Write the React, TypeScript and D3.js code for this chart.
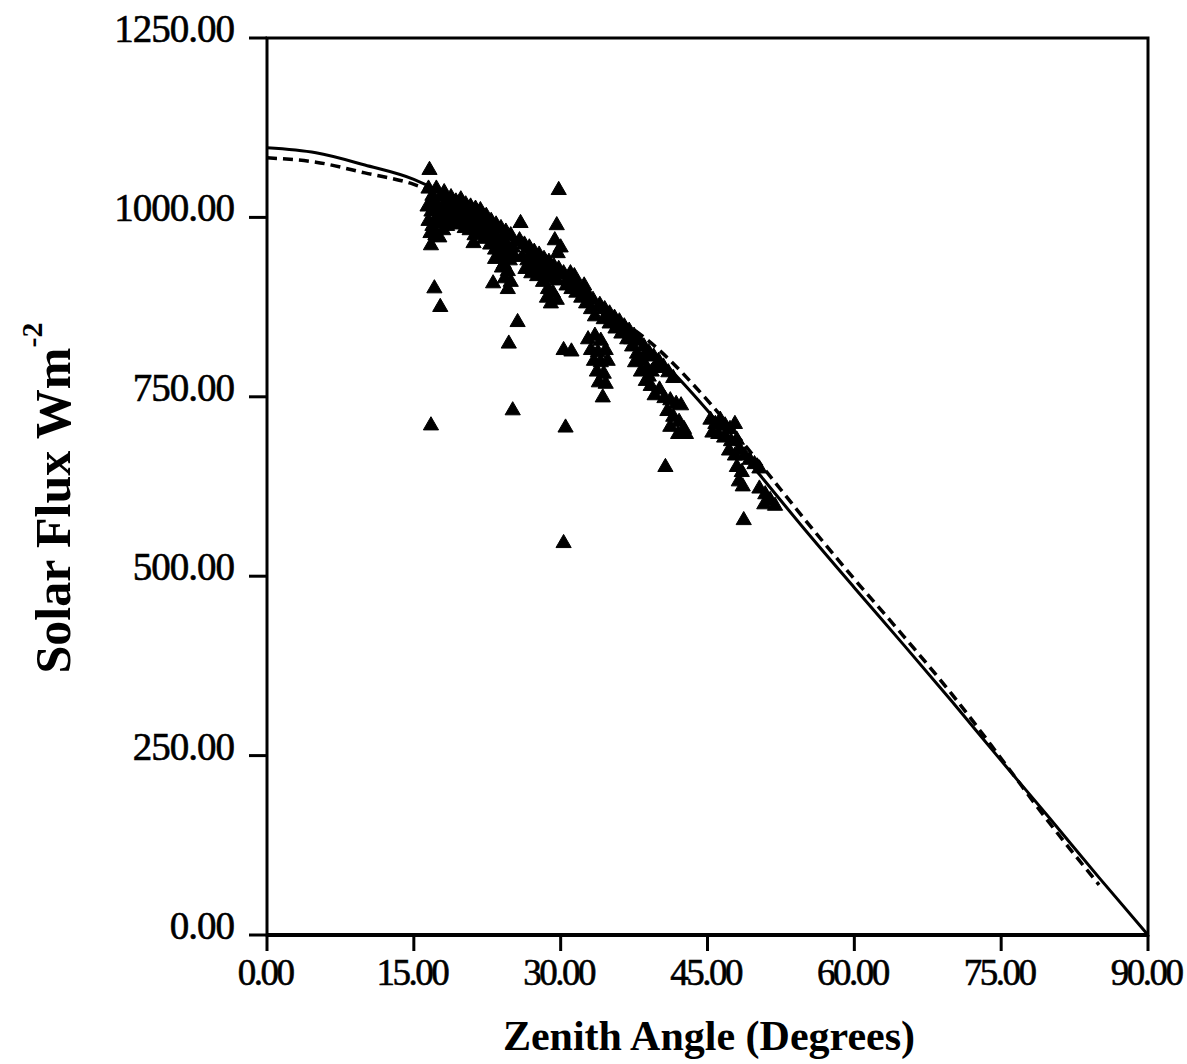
import React from 'react';
import * as d3 from 'd3';

const X_TICKS = [0, 15, 30, 45, 60, 75, 90];
const Y_TICKS = [0, 250, 500, 750, 1000, 1250];

const LINE_ANGLES = [0, 5, 10, 15, 20, 25, 30, 35, 40, 45, 50, 55, 60, 65, 70, 75, 80, 85, 90];
const SOLID_FLUX = [1097, 1090, 1073, 1053, 1017, 968, 912, 858, 804, 731, 647, 564, 484, 405, 325, 243, 162, 80, 0];

const DASHED_ANGLES = [0, 5, 10, 15, 20, 25, 30, 35, 40, 45, 50, 55, 60, 65, 70, 75, 80, 85];
const DASHED_FLUX = [1083, 1077, 1062, 1046, 1015, 970, 918, 868, 816, 745, 663, 578, 496, 417, 335, 246, 155, 70];

const OBS_ANGLE_FLUX: [number, number][] = [
  [16.6, 1066],
  [16.5, 1040], [16.9, 1030], [17.3, 1040], [17.7, 1028], [18.1, 1035],
  [16.4, 1015], [16.8, 1008], [17.2, 1018], [17.6, 1010], [18.0, 1015], [18.4, 1022],
  [16.5, 995], [16.9, 988], [17.3, 998], [17.7, 992], [18.1, 1000], [18.5, 1005],
  [16.7, 978], [17.2, 975], [17.6, 972], [18.0, 982], [18.4, 988],
  [17.0, 1022], [17.5, 1002], [18.3, 1012], [18.6, 995],
  [16.75, 961], [17.1, 901], [17.7, 875], [16.75, 710],
  [18.8, 1028], [19.3, 1022], [19.8, 1025], [20.3, 1018], [20.8, 1015], [21.3, 1012], [21.8, 1010],
  [18.9, 1010], [19.4, 1005], [19.9, 1008], [20.4, 1000], [20.9, 998], [21.4, 995], [21.9, 995],
  [19.0, 992], [19.6, 990], [20.2, 985], [20.7, 982], [21.2, 975], [21.7, 978], [22.2, 970],
  [19.1, 1016], [19.7, 1000], [20.6, 1008], [21.6, 1002], [22.1, 988], [20.0, 993], [21.0, 990],
  [21.1, 964],
  [22.4, 1002], [22.9, 995], [23.4, 990], [23.9, 985], [24.4, 980], [24.9, 975],
  [22.6, 985], [23.1, 978], [23.6, 970], [24.1, 965], [24.6, 960], [25.1, 958],
  [22.8, 962], [23.3, 955], [23.8, 948], [24.3, 945], [24.8, 940], [25.3, 945],
  [22.6, 975], [23.6, 960], [24.6, 950], [23.3, 942], [24.2, 935],
  [24.0, 930], [24.6, 925], [24.3, 915], [24.9, 910], [24.6, 900],
  [23.1, 908], [25.9, 992], [25.6, 854], [24.7, 824], [25.1, 731],
  [25.8, 968], [26.3, 962], [26.8, 958], [27.3, 952], [27.8, 948], [28.3, 942], [28.8, 938], [29.3, 932], [29.8, 928],
  [26.1, 945], [26.6, 940], [27.1, 935], [27.6, 930], [28.1, 925], [28.6, 920], [29.1, 915], [29.6, 912],
  [26.4, 928], [27.0, 922], [27.6, 918], [28.2, 910], [28.7, 900], [29.2, 895], [29.6, 885], [29.0, 880], [28.6, 888],
  [27.3, 940], [28.4, 930], [29.4, 922], [26.9, 946],
  [29.8, 1038], [29.6, 989], [29.4, 968], [30.0, 958], [29.7, 950],
  [30.3, 922], [30.8, 915], [31.3, 910], [31.8, 905], [32.3, 898], [32.8, 892], [33.3, 885],
  [30.6, 905], [31.1, 900], [31.6, 895], [32.1, 888], [32.6, 880], [33.1, 872], [33.5, 862],
  [31.4, 918], [32.4, 905], [31.0, 922],
  [30.3, 815], [31.1, 813],
  [32.8, 830], [33.5, 835], [34.1, 828], [33.1, 815], [33.8, 812], [34.6, 815], [33.4, 800], [34.1, 798],
  [34.8, 800], [33.7, 785], [34.4, 782], [33.9, 770], [34.6, 768], [34.3, 749],
  [30.5, 707], [30.3, 546],
  [34.0, 878], [34.5, 872], [35.0, 866], [35.5, 860], [36.0, 855], [36.5, 848], [37.0, 842], [37.5, 835],
  [38.0, 828], [38.5, 820], [39.0, 812], [39.5, 806], [40.0, 800],
  [34.4, 858], [35.0, 852], [35.6, 845], [36.2, 838], [36.8, 830], [37.3, 820], [37.8, 810], [38.3, 800],
  [38.8, 790], [39.3, 785], [39.8, 790],
  [35.8, 852], [37.2, 830], [38.6, 808], [36.4, 842],
  [37.6, 798], [38.2, 785], [38.7, 772], [39.2, 765], [39.6, 752], [40.1, 760], [39.0, 778],
  [40.5, 792], [41.0, 784], [41.5, 776],
  [40.6, 748], [41.2, 745], [41.8, 740], [42.3, 738],
  [40.9, 730], [41.5, 722], [42.1, 715], [42.6, 705], [41.2, 708], [42.0, 698], [42.8, 698],
  [40.7, 652],
  [45.3, 718], [45.8, 712], [46.3, 718], [46.8, 710], [47.3, 705], [47.8, 712],
  [45.5, 700], [46.1, 698], [46.7, 693], [47.4, 688], [48.0, 690],
  [47.2, 675], [47.8, 668], [48.3, 676], [48.8, 668], [49.3, 662], [49.8, 656], [50.3, 650],
  [48.0, 652], [48.5, 645], [48.2, 632], [48.6, 625],
  [50.3, 622], [50.9, 614], [51.4, 606], [51.9, 598], [50.8, 600],
  [48.7, 578],
];

const FONT = "'Liberation Serif', 'Times New Roman', serif";

export default function App() {
  const W = 1187;
  const H = 1064;
  const x = d3.scaleLinear().domain([0, 90]).range([267, 1148]);
  const y = d3.scaleLinear().domain([0, 1250]).range([935, 38]);

  const line = d3
    .line<[number, number]>()
    .x((d) => x(d[0]))
    .y((d) => y(d[1]))
    .curve(d3.curveMonotoneX);

  const solid = line(LINE_ANGLES.map((a, i) => [a, SOLID_FLUX[i]] as [number, number])) || '';
  const dashed = line(DASHED_ANGLES.map((a, i) => [a, DASHED_FLUX[i]] as [number, number])) || '';
  const tri = d3.symbol().type(d3.symbolTriangle).size(100)() || '';

  const [x0, x1] = x.range();
  const [y0, y1] = y.range();

  return (
    <svg
      width={W}
      height={H}
      viewBox={`0 0 ${W} ${H}`}
      style={{ position: 'absolute', left: 0, top: 0, background: '#fff' }}
    >
      <rect x={0} y={0} width={W} height={H} fill="#fff" />
      {/* data */}
      <g fill="#000" stroke="#000" strokeWidth={1}>
        {OBS_ANGLE_FLUX.map((d, i) => (
          <path key={i} d={tri} transform={`translate(${x(d[0])},${y(d[1])})`} />
        ))}
      </g>
      <path d={dashed} fill="none" stroke="#000" strokeWidth={3.5} strokeDasharray="10,6" />
      <path d={solid} fill="none" stroke="#000" strokeWidth={3} />

      {/* frame */}
      <rect x={x0} y={y1} width={x1 - x0} height={y0 - y1} fill="none" stroke="#000" strokeWidth={3} />
      <line x1={x0} x2={x1} y1={y0} y2={y0} stroke="#000" strokeWidth={4} />

      {/* y ticks */}
      {Y_TICKS.map((v) => (
        <g key={`y${v}`}>
          <line x1={x0 - 18} x2={x0} y1={y(v)} y2={y(v)} stroke="#000" strokeWidth={3} />
          <text
            x={234}
            y={y(v) + 4}
            textAnchor="end"
            fontFamily={FONT}
            fontSize={39}
            letterSpacing={-1}
            stroke="#000"
            strokeWidth={0.6}
            fill="#000"
          >
            {v.toFixed(2)}
          </text>
        </g>
      ))}

      {/* x ticks */}
      {X_TICKS.map((v) => (
        <g key={`x${v}`}>
          <line x1={x(v)} x2={x(v)} y1={y0} y2={y0 + 16} stroke="#000" strokeWidth={3} />
          <text
            x={x(v) - 2}
            y={985}
            textAnchor="middle"
            fontFamily={FONT}
            fontSize={37}
            letterSpacing={-2.5}
            stroke="#000"
            strokeWidth={0.6}
            fill="#000"
          >
            {v.toFixed(2)}
          </text>
        </g>
      ))}

      {/* axis titles */}
      <text
        x={709}
        y={1050}
        textAnchor="middle"
        fontFamily={FONT}
        fontSize={42}
        fontWeight="bold"
        fill="#000"
      >
        Zenith Angle (Degrees)
      </text>
      <text
        transform="translate(70,498) rotate(-90)"
        textAnchor="middle"
        fontFamily={FONT}
        fontSize={50}
        fontWeight="bold"
        fill="#000"
      >
        Solar Flux Wm
        <tspan fontSize={30} dy={-28}>-2</tspan>
      </text>
    </svg>
  );
}
